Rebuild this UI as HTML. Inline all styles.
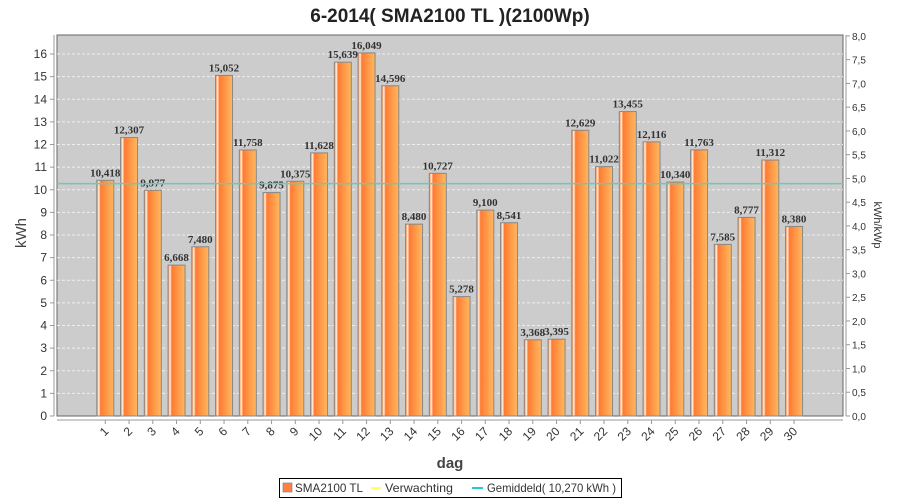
<!DOCTYPE html>
<html><head><meta charset="utf-8"><style>
body{margin:0;background:#fff;}
svg{display:block;font-family:"Liberation Sans","DejaVu Sans",sans-serif;}
</style></head><body>
<svg id="c" width="900" height="500" xmlns="http://www.w3.org/2000/svg">
<defs>
<linearGradient id="g" x1="0" x2="1" y1="0" y2="0">
<stop offset="0" stop-color="#ff7a33"/>
<stop offset="0.12" stop-color="#fff4e0"/>
<stop offset="0.22" stop-color="#ff7a33"/>
<stop offset="0.6" stop-color="#ff9a48"/>
<stop offset="1" stop-color="#ffb860"/>
</linearGradient>
</defs>
<rect x="0" y="0" width="900" height="500" fill="#fff"/>
<text x="450" y="22" text-anchor="middle" font-size="19" font-weight="bold" fill="#222">6-2014( SMA2100 TL )(2100Wp)</text>
<rect x="57" y="35" width="786" height="381" fill="#cccccc" stroke="#666" stroke-width="1"/>
<g id="grid"></g>
<g id="bars"></g>
<line x1="57" x2="843" y1="183.6" y2="183.6" stroke="#6cc8b8" stroke-width="1.5"/>
<g id="ax" font-size="12" fill="#333"></g>
<text x="450" y="468" text-anchor="middle" font-size="15" font-weight="bold" fill="#444">dag</text>
<text transform="translate(26,233) rotate(-90)" text-anchor="middle" font-size="15" fill="#444">kWh</text>
<text transform="translate(874,225) rotate(90)" text-anchor="middle" font-size="11" fill="#333">kWh/kWp</text>
<rect x="279.5" y="478.5" width="342" height="19" fill="#fff" stroke="#000"/>
<rect x="283" y="483" width="9" height="9" fill="#ff8040" stroke="#888" stroke-width="0.7"/>
<text x="295" y="492" font-size="12" fill="#333" textLength="68" lengthAdjust="spacingAndGlyphs">SMA2100 TL</text>
<line x1="371" x2="381" y1="488" y2="488" stroke="#ffff66" stroke-width="2"/>
<text x="385" y="492" font-size="12" fill="#333" textLength="68" lengthAdjust="spacingAndGlyphs">Verwachting</text>
<line x1="472" x2="483" y1="488" y2="488" stroke="#22cccc" stroke-width="2"/>
<text x="487" y="492" font-size="12" fill="#333" textLength="129" lengthAdjust="spacingAndGlyphs">Gemiddeld( 10,270 kWh )</text>
</svg>
<script>
var v=[10.418,12.307,9.977,6.668,7.480,15.052,11.758,9.875,10.375,11.628,15.639,16.049,14.596,8.480,10.727,5.278,9.100,8.541,3.368,3.395,12.629,11.022,13.455,12.116,10.340,11.763,7.585,8.777,11.312,8.380];
var ns="http://www.w3.org/2000/svg",s=22.625,b=416;
function el(p,t,a,txt){var e=document.createElementNS(ns,t);for(var k in a)e.setAttribute(k,a[k]);if(txt!=null)e.textContent=txt;document.getElementById(p).appendChild(e);return e;}
for(var i=1;i<=16;i++){var y=b-i*s;el('grid','line',{x1:57,x2:843,y1:y,y2:y,stroke:'#eee','stroke-dasharray':'3,2','stroke-width':1});}
for(var i=0;i<=16;i++){var y=b-i*s;el('ax','text',{x:47,y:y+4,'text-anchor':'end'},i);el('ax','line',{x1:50,x2:54,y1:y,y2:y,stroke:'#999'});}
el('ax','line',{x1:54,x2:54,y1:35,y2:416,stroke:'#999'});
el('ax','line',{x1:57,x2:843,y1:420,y2:420,stroke:'#999'});
el('ax','line',{x1:846,x2:846,y1:35,y2:416,stroke:'#999'});
for(var i=0;i<=16;i++){var y=b-i*0.5*2.1*s;el('ax','line',{x1:846,x2:850,y1:y,y2:y,stroke:'#999'});el('ax','text',{x:852,y:y+4,'font-size':10},(i/2).toFixed(1).replace('.',','));}
for(var i=0;i<30;i++){var cx=105.3+i*23.75,h=v[i]*s,y=b-h;
el('bars','rect',{x:cx-8.5,y:y,width:17,height:h,fill:'url(#g)',stroke:'#888','stroke-width':1});
el('bars','text',{x:cx,y:y-4,'text-anchor':'middle','font-size':11,'font-weight':'bold','font-family':'Liberation Serif,serif',fill:'#333'},v[i].toFixed(3).replace('.',','));
el('ax','line',{x1:cx,x2:cx,y1:420,y2:424,stroke:'#999'});
el('ax','text',{transform:'translate('+(cx+4)+',432) rotate(-45)','text-anchor':'end'},i+1);}
</script>
</body></html>
